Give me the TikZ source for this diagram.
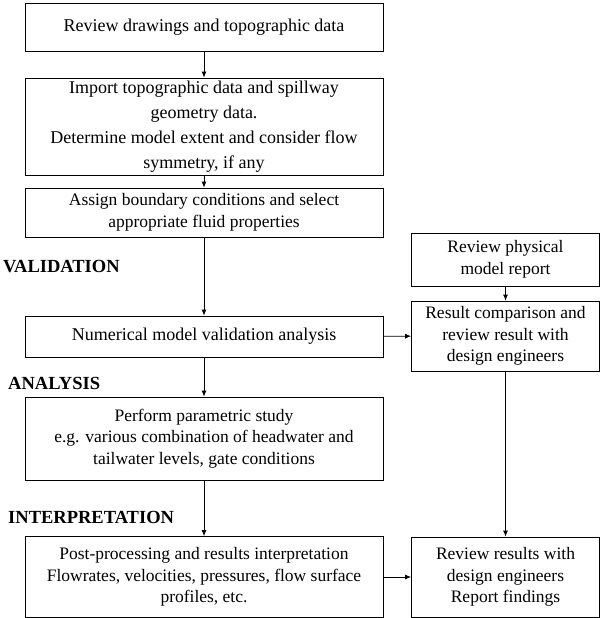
\documentclass[tikz,border=0pt]{standalone}
\usepackage{fontspec}
\setmainfont{Liberation Serif}
\usetikzlibrary{arrows.meta}
\tikzset{
  stepbox/.style={draw=black, line width=0.8pt, align=center, inner sep=0pt,
    font=\fontsize{17.5}{21.5}\selectfont},
  phase/.style={anchor=west, inner sep=0pt, font=\fontsize{18.5}{20}\selectfont\bfseries},
  arrow/.style={-{Latex[length=6pt,width=5pt]}, line width=0.8pt}
}

\begin{document}
\begin{tikzpicture}[x=1pt,y=-1pt]
  \useasboundingbox (0,0) rectangle (601,618);
  % Main column
  \node[stepbox, minimum width=358pt, minimum height=48pt,
    font=\fontsize{18}{21.5}\selectfont] (review) at (204,27)
    {Review drawings and topographic data};
  \node[stepbox, minimum width=358pt, minimum height=97pt,
    font=\fontsize{18}{25}\selectfont] (import) at (204,126.5)
    {Import topographic data and spillway\\ geometry data.\\
     Determine model extent and consider flow\\ symmetry, if any};
  \node[stepbox, minimum width=358pt, minimum height=49pt] (assign) at (204,212.5)
    {Assign boundary conditions and select\\ appropriate fluid properties};
  \node[stepbox, minimum width=358pt, minimum height=41pt,
    font=\fontsize{18}{21.5}\selectfont] (valid) at (204,336.5)
    {Numerical model validation analysis};
  \node[stepbox, minimum width=358pt, minimum height=83pt] (param) at (204,438.5)
    {Perform parametric study\\ e.g. various combination of headwater and\\
     tailwater levels, gate conditions};
  \node[stepbox, minimum width=358pt, minimum height=81pt] (post) at (204,577)
    {Post-processing and results interpretation\\
     Flowrates, velocities, pressures, flow surface\\ profiles, etc.};

  % Right column
  \node[stepbox, minimum width=188pt, minimum height=53pt] (physical) at (505.5,259.5)
    {Review physical\\ model report};
  \node[stepbox, minimum width=188pt, minimum height=70pt] (compare) at (505.5,336)
    {Result comparison and\\ review result with\\ design engineers};
  \node[stepbox, minimum width=188pt, minimum height=80pt] (findings) at (505.5,577)
    {Review results with\\ design engineers\\ Report findings};

  % Phase labels
  \node[phase] (lvalid) at (3,267) {VALIDATION};
  \node[phase] (lanalysis) at (8,383) {ANALYSIS};
  \node[phase] (linterp) at (8,517) {INTERPRETATION};

  % Connectors
  \draw[arrow] (review) -- (import);
  \draw[arrow] (import) -- (assign);
  \draw[arrow] (assign) -- (valid);
  \draw[arrow] (valid) -- (param);
  \draw[arrow] (param) -- (post);
  \draw[arrow] (physical) -- (compare);
  \draw[arrow] (valid) -- (compare);
  \draw[arrow] (compare) -- (findings);
  \draw[arrow] (post) -- (findings);
\end{tikzpicture}
\end{document}
